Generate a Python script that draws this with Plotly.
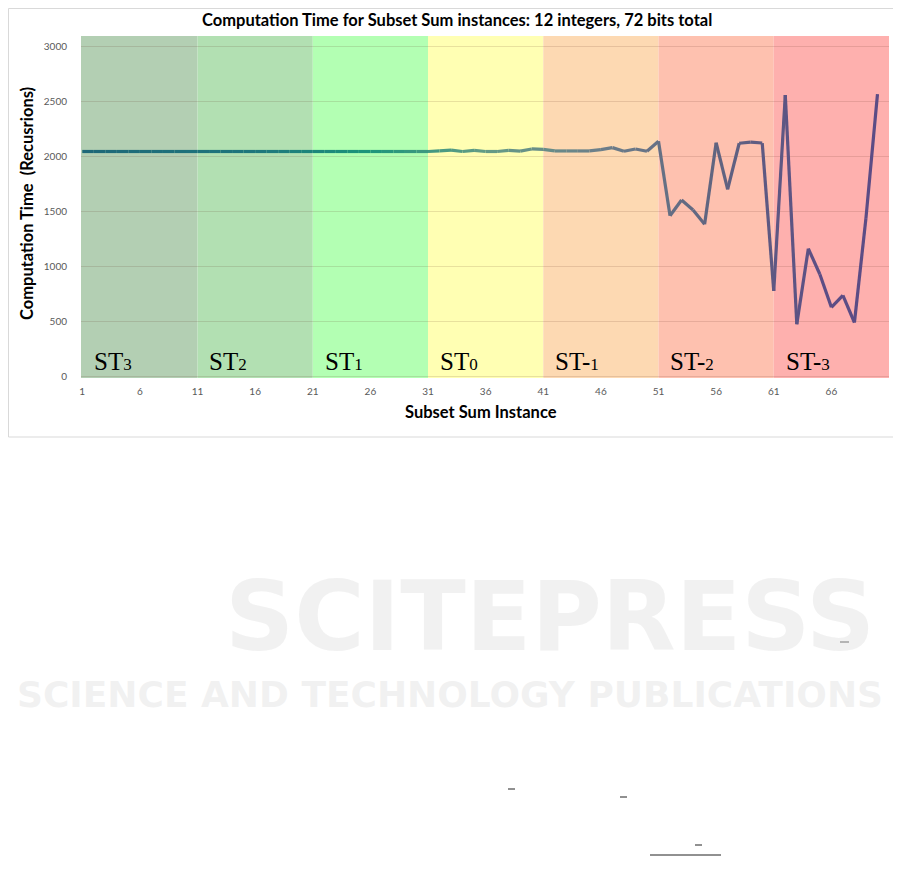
import plotly.graph_objects as go

# ---------------- data ----------------
instances = list(range(1, 71))
recursions = [
    2045, 2045, 2045, 2045, 2045, 2045, 2045, 2045, 2045, 2045,   # 1-10
    2045, 2045, 2045, 2045, 2045, 2045, 2045, 2045, 2045, 2045,   # 11-20
    2045, 2045, 2045, 2045, 2045, 2045, 2045, 2045, 2045, 2045,   # 21-30
    2045, 2050, 2058, 2045, 2055, 2045, 2045, 2055, 2048, 2068,   # 31-40
    2065, 2050, 2050, 2050, 2050, 2062, 2080, 2047, 2068, 2047,   # 41-50
    2138, 1462, 1605, 1514, 1385, 2125, 1702, 2120, 2131, 2122,   # 51-60
    780, 2558, 476, 1163, 930, 630, 738, 492, 1440, 2566          # 61-70
]
band_labels = ["3", "2", "1", "0", "-1", "-2", "-3"]
band_starts = [0.89, 11, 21, 31, 41, 51, 61]
band_ends = [11, 21, 31, 41, 51, 61, 71.0]
x_tick_vals = [1, 6, 11, 16, 21, 26, 31, 36, 41, 46, 51, 56, 61, 66]
y_tick_vals = [0, 500, 1000, 1500, 2000, 2500, 3000]

# ---------------- style ----------------
band_colors = ["#b3cfb3", "#b2e0b2", "#b3ffb3", "#ffffb3", "#fdd9b2", "#fec1af", "#feb0ae"]
line_stops = [  # (x, rgb) gradient stops for the line
    (1, (30, 104, 120)), (16, (30, 118, 124)), (26, (28, 150, 122)),
    (36, (100, 156, 134)), (46, (108, 126, 138)), (56, (96, 100, 128)),
    (66, (92, 76, 133)), (70, (92, 76, 133)),
]

OFF = 8                      # page offset of the figure inside the window
W, H = 893, 868
L, R, T, B = 81, 889, 36, 378   # plot area in window pixels


def px(xp):
    return (xp - L) / (R - L)


def py(yp):
    return (B - yp) / (B - T)


def line_color(x):
    for (x0, c0), (x1, c1) in zip(line_stops[:-1], line_stops[1:]):
        if x0 <= x <= x1:
            t = (x - x0) / (x1 - x0) if x1 > x0 else 0
            c = [round(a + (b - a) * t) for a, b in zip(c0, c1)]
            return "rgb(%d,%d,%d)" % tuple(c)
    return "rgb(%d,%d,%d)" % line_stops[-1][1]


fig = go.Figure()

for i in range(len(instances) - 1):
    xm = (instances[i] + instances[i + 1]) / 2
    fig.add_trace(go.Scatter(
        x=instances[i:i + 2], y=recursions[i:i + 2], mode="lines",
        line=dict(color=line_color(xm), width=3.2), showlegend=False,
        hoverinfo="skip"))

shapes = []
annotations = []
for s, e, c, lab in zip(band_starts, band_ends, band_colors, band_labels):
    shapes.append(dict(type="rect", xref="x", yref="paper", x0=s, x1=e, y0=0, y1=1,
                       fillcolor=c, line=dict(width=0), layer="below"))
    if lab.startswith("-"):
        txt = "ST-<span style='font-size:17px'>%s</span>" % lab[1:]
    else:
        txt = "ST<span style='font-size:17px'>%s</span>" % lab
    annotations.append(dict(x=int(s) + 0.85 if s > 1 else 1.84, y=0, xref="x", yref="y",
                            text=txt, showarrow=False, xanchor="left", yanchor="bottom",
                            font=dict(family="Liberation Serif", size=25, color="#000000")))

# chart border
shapes.append(dict(type="rect", xref="paper", yref="paper", x0=px(8.5), x1=px(896),
                   y0=py(437), y1=py(8.5), line=dict(color="#d9d9d9", width=1),
                   fillcolor="rgba(0,0,0,0)", layer="below"))
# small stray marks from page
for (x0, y0, x1, y1) in [(650, 855, 721, 855), (840, 642, 849, 642), (508, 789, 515, 789),
                         (620, 797, 627, 797), (695, 845, 702, 845)]:
    shapes.append(dict(type="line", xref="paper", yref="paper", x0=px(x0), x1=px(x1),
                       y0=py(y0), y1=py(y1), line=dict(color="#222222", width=1)))

title_font = dict(family="Lato", size=16.5, color="#000000")
annotations += [
    dict(text="<b>Computation Time for Subset Sum instances: 12 integers, 72 bits total</b>",
         x=px(457), y=py(20), xref="paper", yref="paper", showarrow=False,
         xanchor="center", yanchor="middle", font=title_font),
    dict(text="<b>Computation Time  (Recusrions)</b>", x=px(27), y=py(204),
         xref="paper", yref="paper", showarrow=False, textangle=-90,
         xanchor="center", yanchor="middle", font=title_font),
    dict(text="<b>Subset Sum Instance</b>", x=px(481), y=py(412), xref="paper",
         yref="paper", showarrow=False, xanchor="center", yanchor="middle", font=title_font),
    # watermark
    dict(text="<b>SCITEPRESS</b>", x=px(550), y=py(617), xref="paper", yref="paper",
         showarrow=False, xanchor="center", yanchor="middle", height=92,
         font=dict(family="DejaVu Sans", size=96, color="rgba(225,225,225,0.45)")),
    dict(text="<b>SCIENCE AND TECHNOLOGY PUBLICATIONS</b>", x=px(450), y=py(694),
         xref="paper", yref="paper", showarrow=False, xanchor="center", yanchor="middle",
         height=38, font=dict(family="DejaVu Sans", size=36, color="rgba(225,225,225,0.45)")),
]

fig.update_layout(
    width=W, height=H,
    margin=dict(l=L - OFF, r=W - (R - OFF), t=T - OFF, b=H - (B - OFF), pad=0),
    paper_bgcolor="white", plot_bgcolor="white",
    shapes=shapes, annotations=annotations, showlegend=False,
    xaxis=dict(range=[0.89, 71.0], tickvals=x_tick_vals, showgrid=False, zeroline=False,
               showline=False, ticks="", ticklabelstandoff=6,
               tickfont=dict(family="Lato", size=10, color="#595959")),
    yaxis=dict(range=[-12, 3094], tickvals=y_tick_vals, showgrid=True,
               gridcolor="rgba(90,40,30,0.14)", gridwidth=1, zeroline=False,
               showline=False, ticks="", ticklabelstandoff=13,
               tickfont=dict(family="Lato", size=10, color="#595959")),
)

fig.write_html("out.html")
